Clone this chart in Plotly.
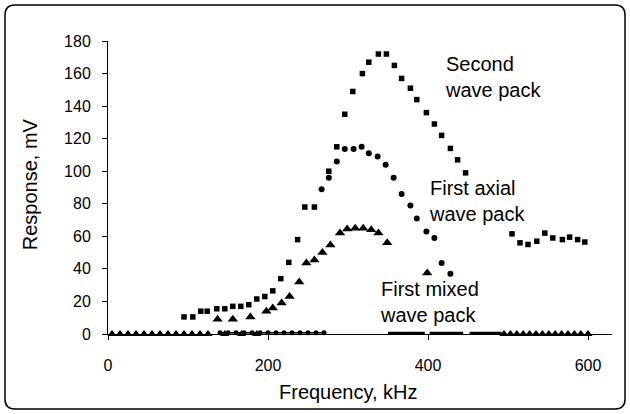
import plotly.graph_objects as go

# ---- data ----
second_f = [95, 106, 116, 124, 136, 146, 156, 166, 176, 186, 196, 206, 216, 226, 237, 246, 258,
            276, 286, 296, 306, 318, 326, 338, 348, 358, 367, 378, 386, 398, 408, 417, 428, 437, 447,
            505, 515, 525, 536, 546, 556, 568, 577, 587, 596]
second_v = [10.5, 10.5, 14, 14, 15.5, 15.5, 17, 17, 18, 21.5, 23, 26.5, 34, 44, 58, 78, 78,
            100, 115, 135, 149, 160, 167, 172, 172, 165, 157, 151, 144, 136, 129, 122, 114, 107, 99,
            61.5, 56, 55, 57, 62, 59, 58, 59.5, 58, 56.5]

axial_f = [267, 276, 286, 296, 307, 317, 326, 337, 347, 357, 367, 378, 386, 398, 408, 417, 428]
axial_v = [89, 96, 106, 113.7, 113.7, 115, 111, 109, 104, 96, 86, 79, 71, 63, 59, 43.6, 37]

mixed_f = [137, 156, 178, 198, 206, 217, 227, 239, 248, 258, 268, 278, 290, 299, 309, 319, 329,
           338, 349, 399]
mixed_v = [9, 9, 10.5, 14, 16, 19, 23, 32, 43.6, 45.5, 50, 54.7, 62, 64.5, 65, 65, 64, 62, 56, 37.5]

base_tri_f = [5, 15, 25, 35, 45, 55, 65, 75, 85, 95, 105, 115, 125, 146, 167, 186,
              495, 503, 511, 519, 527, 535, 543, 551, 559, 567, 575, 583, 591, 600]
base_tri_v = [0] * len(base_tri_f)

base_dot_f = [140, 150, 160, 170, 180, 190, 200, 210, 220, 230, 240, 250, 260, 270]
base_dot_v = [0.8] * len(base_dot_f)

base_seg_f = [350, 396, None, 402, 444, None, 452, 492]
base_seg_v = [0.5, 0.5, None, 0.5, 0.5, None, 0.5, 0.5]

x_ticks = [0, 200, 400, 600]
y_ticks = [0, 20, 40, 60, 80, 100, 120, 140, 160, 180]

FONT = "Liberation Sans, Arial, sans-serif"

fig = go.Figure()
fig.add_trace(go.Scatter(x=second_f, y=second_v, mode="markers", name="Second wave pack",
                         marker=dict(symbol="square", size=5.5, color="black"), cliponaxis=False))
fig.add_trace(go.Scatter(x=axial_f, y=axial_v, mode="markers", name="First axial wave pack",
                         marker=dict(symbol="circle", size=6, color="black"), cliponaxis=False))
fig.add_trace(go.Scatter(x=mixed_f, y=mixed_v, mode="markers", name="First mixed wave pack",
                         marker=dict(symbol="triangle-up", size=9, color="black"), cliponaxis=False))
fig.add_trace(go.Scatter(x=base_tri_f, y=base_tri_v, mode="markers", name="baseline",
                         marker=dict(symbol="triangle-up", size=8, color="black"), cliponaxis=False))
fig.add_trace(go.Scatter(x=base_dot_f, y=base_dot_v, mode="lines+markers", name="baseline 2",
                         line=dict(color="black", width=1.5),
                         marker=dict(symbol="circle", size=5, color="black"), cliponaxis=False))
fig.add_trace(go.Scatter(x=base_seg_f, y=base_seg_v, mode="lines", name="baseline 3",
                         line=dict(color="black", width=3), cliponaxis=False))

# rounded outer frame in paper coords (plot area 108..612 x, 41..334 y)
L, R, T, B = 108, 612, 41, 334
def px(xp):
    return (xp - L) / (R - L)
def py(yp):
    return (B - yp) / (B - T)
x0, x1, y0, y1 = 5, 625, 5, 409
r = 10
path = (f"M {px(x0 + r)} {py(y0)} L {px(x1 - r)} {py(y0)} Q {px(x1)} {py(y0)} {px(x1)} {py(y0 + r)} "
        f"L {px(x1)} {py(y1 - r)} Q {px(x1)} {py(y1)} {px(x1 - r)} {py(y1)} "
        f"L {px(x0 + r)} {py(y1)} Q {px(x0)} {py(y1)} {px(x0)} {py(y1 - r)} "
        f"L {px(x0)} {py(y0 + r)} Q {px(x0)} {py(y0)} {px(x0 + r)} {py(y0)} Z")
fig.add_shape(type="path", path=path, xref="paper", yref="paper",
              line=dict(color="black", width=1.5), layer="below")

ann_font = dict(family=FONT, size=20, color="black")
fig.add_annotation(x=419, y=157.6, text="Second<br>wave pack", showarrow=False,
                   xanchor="left", yanchor="middle", align="left", font=ann_font)
fig.add_annotation(x=399, y=82, text="First axial<br>wave pack", showarrow=False,
                   xanchor="left", yanchor="middle", align="left", font=ann_font)
fig.add_annotation(x=337.5, y=19.4, text="First mixed<br>wave pack", showarrow=False,
                   xanchor="left", yanchor="middle", align="left", font=ann_font)
# axis titles
fig.add_annotation(x=300, xref="x", y=0, yref="paper", yshift=-58, text="Frequency, kHz",
                   showarrow=False, xanchor="center", yanchor="middle", font=ann_font)
fig.add_annotation(x=0, xref="paper", y=92, yref="y", xshift=-78, text="Response, mV",
                   textangle=-90, showarrow=False, xanchor="center", yanchor="middle", font=ann_font)

fig.update_layout(
    width=630, height=414,
    margin=dict(l=L, r=630 - R, t=T, b=414 - B),
    paper_bgcolor="white", plot_bgcolor="white",
    showlegend=False,
    font=dict(family=FONT, size=16, color="black"),
    xaxis=dict(range=[0, 630], tickvals=x_ticks, ticks="outside", ticklen=5, tickcolor="black",
               showline=True, linecolor="black", linewidth=1, showgrid=False, zeroline=False,
               tickfont=dict(size=16), ticklabelstandoff=12),
    yaxis=dict(range=[0, 180], tickvals=y_ticks, ticks="outside", ticklen=5, tickcolor="black",
               showline=True, linecolor="black", linewidth=1, showgrid=False, zeroline=False,
               tickfont=dict(size=16), ticklabelstandoff=8),
)

fig.write_html("out.html")
